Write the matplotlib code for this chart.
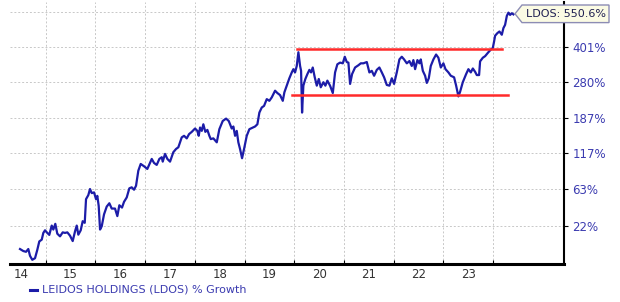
import matplotlib
matplotlib.use('Agg')
import matplotlib.pyplot as plt
from matplotlib.patches import Polygon

# Данные: дата (доля года) и рост в %
years = [
    2014.483, 2014.549, 2014.604, 2014.650, 2014.684, 2014.730, 2014.785, 2014.831, 2014.871, 2014.920,
    2014.952, 2014.986, 2015.032, 2015.072, 2015.121, 2015.153, 2015.193, 2015.233, 2015.288, 2015.342,
    2015.388, 2015.435, 2015.489, 2015.543, 2015.590, 2015.624, 2015.656, 2015.704, 2015.744, 2015.785,
    2015.811, 2015.857, 2015.891, 2015.926, 2015.972, 2016.012, 2016.038, 2016.066, 2016.093, 2016.127,
    2016.173, 2016.227, 2016.280, 2016.328, 2016.394, 2016.441, 2016.481, 2016.535, 2016.575, 2016.630,
    2016.682, 2016.730, 2016.777, 2016.817, 2016.863, 2016.911, 2016.978, 2017.044, 2017.133, 2017.179,
    2017.233, 2017.286, 2017.334, 2017.354, 2017.400, 2017.447, 2017.501, 2017.567, 2017.622, 2017.668,
    2017.702, 2017.736, 2017.783, 2017.837, 2017.883, 2017.938, 2018.004, 2018.050, 2018.078, 2018.105,
    2018.139, 2018.171, 2018.211, 2018.252, 2018.292, 2018.320, 2018.372, 2018.441, 2018.493, 2018.561,
    2018.628, 2018.682, 2018.742, 2018.775, 2018.809, 2018.843, 2018.875, 2018.909, 2018.950, 2018.990,
    2019.044, 2019.097, 2019.211, 2019.258, 2019.298, 2019.346, 2019.392, 2019.447, 2019.499, 2019.547,
    2019.614, 2019.660, 2019.714, 2019.769, 2019.801, 2019.849, 2019.901, 2019.950, 2019.982, 2020.016,
    2020.050, 2020.083, 2020.117, 2020.137, 2020.157, 2020.183, 2020.223, 2020.264, 2020.304, 2020.338,
    2020.372, 2020.412, 2020.453, 2020.493, 2020.533, 2020.586, 2020.626, 2020.666, 2020.720, 2020.775,
    2020.821, 2020.867, 2020.922, 2020.976, 2021.016, 2021.056, 2021.089, 2021.123, 2021.163, 2021.223,
    2021.290, 2021.338, 2021.390, 2021.459, 2021.511, 2021.559, 2021.606, 2021.660, 2021.712, 2021.761,
    2021.807, 2021.861, 2021.914, 2021.962, 2022.008, 2022.062, 2022.115, 2022.163, 2022.209, 2022.264,
    2022.316, 2022.364, 2022.396, 2022.431, 2022.477, 2022.517, 2022.545, 2022.586, 2022.632, 2022.666,
    2022.706, 2022.746, 2022.799, 2022.853, 2022.899, 2022.948, 2023.000, 2023.042, 2023.101, 2023.149,
    2023.215, 2023.256, 2023.302, 2023.336, 2023.390, 2023.457, 2023.503, 2023.551, 2023.592, 2023.638,
    2023.672, 2023.718, 2023.738, 2023.793, 2023.839, 2023.905, 2023.954, 2023.994, 2024.020, 2024.040,
    2024.087, 2024.127, 2024.175, 2024.207, 2024.241, 2024.276, 2024.308, 2024.342, 2024.376, 2024.408,
]
growth = [
    1.3, -0.3, -0.9, 1.3, -4.0, -7.0, -5.8, 0.7, 7.6, 9.1,
    15.1, 17.5, 15.1, 13.3, 22.0, 18.2, 23.7, 14.4, 12.0, 15.6,
    15.1, 15.6, 12.6, 7.9, 16.6, 22.0, 13.5, 17.5, 26.3, 24.7,
    50.4, 55.3, 63.0, 57.8, 58.7, 50.4, 54.4, 42.5, 18.2, 21.3,
    33.3, 41.8, 45.6, 39.6, 39.6, 31.5, 43.3, 40.7, 47.2, 52.5,
    63.9, 65.2, 62.1, 67.3, 88.5, 98.8, 95.2, 91.1, 106.9, 100.4,
    97.3, 106.9, 109.7, 102.5, 115.3, 106.9, 102.5, 118.2, 123.9, 126.9,
    136.0, 145.4, 148.5, 143.5, 151.8, 156.4, 163.3, 158.4, 148.5, 165.4,
    158.4, 172.3, 156.4, 160.4, 148.5, 142.1, 143.5, 136.0, 161.9, 179.5,
    184.8, 179.5, 163.3, 167.5, 148.5, 158.4, 136.0, 123.9, 108.0, 123.9,
    148.5, 161.9, 167.5, 172.3, 198.7, 211.0, 215.0, 232.4, 227.9, 236.9,
    255.3, 248.8, 243.2, 227.9, 250.7, 269.8, 292.0, 310.7, 321.4, 310.7,
    332.3, 382.0, 332.3, 315.9, 198.7, 269.8, 289.9, 305.3, 319.1, 310.7,
    327.0, 295.1, 269.8, 289.9, 265.1, 280.0, 269.8, 284.8, 269.8, 248.8,
    310.7, 338.1, 343.9, 341.4, 365.0, 345.9, 343.9, 274.9, 305.3, 327.0,
    334.7, 341.4, 341.4, 345.9, 310.7, 315.9, 300.0, 319.1, 327.0, 310.7,
    295.1, 271.9, 269.8, 292.0, 274.9, 310.7, 355.3, 365.0, 355.3, 341.4,
    349.4, 332.3, 352.9, 321.4, 352.9, 341.4, 355.3, 315.9, 300.0, 277.9,
    292.0, 332.3, 355.3, 373.3, 361.4, 327.0, 341.4, 321.4, 310.7, 300.0,
    295.1, 269.8, 239.6, 252.4, 280.0, 305.3, 321.4, 310.7, 323.7, 312.6,
    302.2, 302.2, 348.3, 361.4, 367.2, 382.0, 392.1, 398.6, 425.2, 449.3,
    461.0, 468.1, 453.6, 483.5, 498.8, 542.8, 559.6, 547.8, 556.5, 550.6,
]

# Линии канала (горизонтальные красные)
upper_level = 396.0
upper_span = [2020.06, 2024.17]
lower_level = 243.0
lower_span = [2019.96, 2024.30]

tick_pcts = [22, 63, 117, 187, 280, 401]
tick_labels = ['22%', '63%', '117%', '187%', '280%', '401%']
top_grid_pct = 565
year_labels = ['14', '15', '16', '17', '18', '19', '20', '21', '22', '23']

last_label = 'LDOS: 550.6%'
legend_text = 'LEIDOS HOLDINGS (LDOS) % Growth'

line_color = '#1c1ca8'
label_color = '#3b3bb0'

fig = plt.figure(figsize=(6.2, 3.02), dpi=100)
ax = fig.add_axes([0.016, 0.126, 0.894, 0.867])

ax.set_yscale('log')
yvals = [1 + g / 100 for g in growth]
ax.plot(years, yvals, color=line_color, lw=1.6, zorder=3)

ax.plot(upper_span, [1 + upper_level / 100] * 2, color='#ff2a2a', lw=1.8, zorder=4)
ax.plot(lower_span, [1 + lower_level / 100] * 2, color='#ff2a2a', lw=1.8, zorder=4)

ax.set_xlim(2014.28, 2025.43)
ax.set_ylim(0.90, 7.17)

# ось Y справа
ax.yaxis.tick_right()
ytick_vals = [1 + p / 100 for p in tick_pcts]
ax.set_yticks(ytick_vals + [1 + top_grid_pct / 100])
ax.set_yticklabels(tick_labels + [''])
ax.yaxis.set_minor_locator(matplotlib.ticker.NullLocator())
ax.tick_params(axis='y', which='major', length=3, width=0.8, colors='black',
               labelcolor=label_color, labelsize=8.5, pad=3)

# ось X: сетка по границам лет, подписи в середине года
boundaries = list(range(2015, 2025))
ax.set_xticks(boundaries)
ax.set_xticklabels([''] * len(boundaries))
ax.set_xticks([2014.5 + i for i in range(len(year_labels))], minor=True)
ax.set_xticklabels(year_labels, minor=True)
ax.tick_params(axis='x', which='major', length=3, width=0.8, direction='in')
ax.tick_params(axis='x', which='minor', length=0, labelsize=8.5, labelcolor='#333333', pad=3)

ax.grid(True, which='major', color='#c8c8c8', linestyle=(0, (2, 2)), lw=0.7)
ax.set_axisbelow(True)

for s in ['top', 'left']:
    ax.spines[s].set_visible(False)
ax.spines['bottom'].set_linewidth(2.2)
ax.spines['right'].set_linewidth(1.5)

# подпись последнего значения
W, H = 620.0, 302.0
pts = [(515, 13.8), (522, 5), (609, 5), (609, 22.6), (522, 22.6)]
box = Polygon([(x / W, 1 - y / H) for x, y in pts], closed=True,
              transform=fig.transFigure, facecolor='#fbfbe4', edgecolor='#8c8cb4', lw=1.0, zorder=10)
fig.add_artist(box)
fig.text(565.5 / W, 1 - 14 / H, last_label, ha='center', va='center', fontsize=8,
         color='#1e1e50', zorder=11)

# легенда
fig.add_artist(matplotlib.lines.Line2D([30 / W, 37 / W], [1 - 290 / H] * 2, color=line_color,
                                       lw=2.2, transform=fig.transFigure))
fig.text(42 / W, 1 - 290 / H, legend_text, ha='left', va='center', fontsize=8, color=label_color)

fig.savefig('out.png', dpi=100)
